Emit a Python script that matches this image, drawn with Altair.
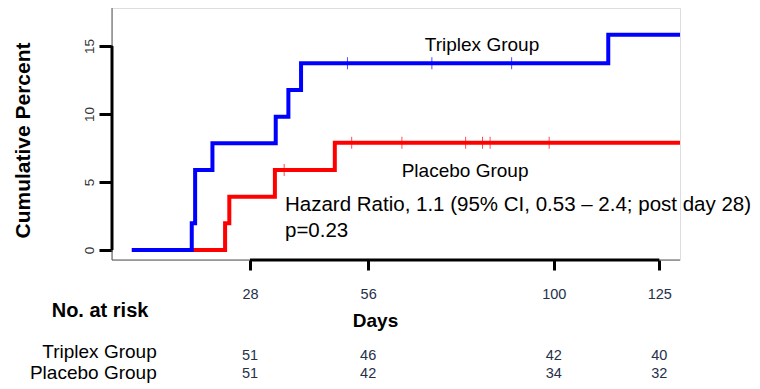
import altair as alt
import pandas as pd

# ---- data ----
blue_days = [0, 14.2, 15.0, 19.1, 34.1, 37.1, 40.1, 112.9, 129.9]
blue_pct = [0, 1.96, 5.88, 7.84, 9.80, 11.76, 13.73, 15.83, 15.83]
red_days = [0, 22.1, 23.1, 33.9, 48.1, 129.9]
red_pct = [0, 1.96, 3.92, 5.88, 7.88, 7.88]
blue_censor_days = [51.1, 71.1, 90.0]
blue_censor_pct = [13.73, 13.73, 13.73]
red_censor_days = [36.1, 52.1, 64.0, 79.1, 83.1, 84.9, 98.9]
red_censor_pct = [5.88, 7.88, 7.88, 7.88, 7.88, 7.88, 7.88]
risk_days = [28, 56, 100, 125]
triplex_risk = [51, 46, 42, 40]
placebo_risk = [51, 42, 34, 32]
y_ticks = [0, 5, 10, 15]

BLUE = "#0000FF"
RED = "#FF0000"
FONT = "Liberation Sans"
NUMC = "#26304a"

W, H = 568, 252
xs = alt.Scale(domain=[-4.70, 129.9], nice=False, zero=False)
ys = alt.Scale(domain=[-0.735, 17.79], nice=False, zero=False)

blue_df = pd.DataFrame({"day": blue_days, "pct": blue_pct})
red_df = pd.DataFrame({"day": red_days, "pct": red_pct})
bc_df = pd.DataFrame({"day": blue_censor_days, "pct": blue_censor_pct})
rc_df = pd.DataFrame({"day": red_censor_days, "pct": red_censor_pct})
risk_df = pd.DataFrame({"day": risk_days, "tri": triplex_risk, "pla": placebo_risk})
one = pd.DataFrame({"a": [0]})

x_axis = alt.Axis(
    values=risk_days, domain=False, grid=False, tickSize=10, tickWidth=3,
    tickColor="black", labelFontSize=14.5, labelColor=NUMC, labelPadding=28,
    labelBaseline="alphabetic", labelFont=FONT,
    titleFontSize=19, titleFontWeight="bold", titleFont=FONT,
    titleColor="black", titleX=263, titleY=66, titleBaseline="alphabetic",
    titleAlign="center",
)
y_axis = alt.Axis(
    values=y_ticks, domain=False, grid=False, tickSize=13, tickWidth=3,
    tickColor="black", labelFontSize=13.5, labelColor="#333333", labelAngle=-90,
    labelAlign="center", labelBaseline="alphabetic", labelPadding=6,
    labelFont=FONT,
)


def X(field="day"):
    return alt.X(f"{field}:Q", scale=xs, axis=x_axis, title="Days")


def Y(field="pct"):
    return alt.Y(f"{field}:Q", scale=ys, axis=y_axis, title=None)


red_line = alt.Chart(red_df).mark_line(
    color=RED, strokeWidth=4, interpolate="step-after", strokeCap="butt"
).encode(x=X(), y=Y())
red_cens = alt.Chart(rc_df).mark_tick(
    color=RED, orient="vertical", size=12, thickness=1
).encode(x=X(), y=Y())
blue_line = alt.Chart(blue_df).mark_line(
    color=BLUE, strokeWidth=4, interpolate="step-after", strokeCap="butt"
).encode(x=X(), y=Y())
blue_cens = alt.Chart(bc_df).mark_tick(
    color=BLUE, orient="vertical", size=12, thickness=1
).encode(x=X(), y=Y())

# frame lines
frame_left = alt.Chart(one).mark_rule(color="#555555", strokeWidth=1).encode(
    x=alt.value(0), y=alt.value(0), y2=alt.value(H)
)
frame_bottom = alt.Chart(one).mark_rule(color="#555555", strokeWidth=1).encode(
    x=alt.value(0), x2=alt.value(W), y=alt.value(H)
)
y_domain = alt.Chart(pd.DataFrame({"lo": [y_ticks[0]], "hi": [y_ticks[-1]]})).mark_rule(
    color="black", strokeWidth=3
).encode(x=alt.value(0), y=Y("lo"), y2="hi:Q")
x_domain = alt.Chart(pd.DataFrame({"lo": [risk_days[0]], "hi": [risk_days[-1]]})).mark_rule(
    color="black", strokeWidth=3
).encode(y=alt.value(H), x=X("lo"), x2="hi:Q")


def label(text, x, y, size, align="left", weight="normal", angle=0, color="black"):
    return alt.Chart(one).mark_text(
        text=text, font=FONT, fontSize=size, align=align, baseline="alphabetic",
        fontWeight=weight, angle=angle, color=color,
    ).encode(x=alt.value(x), y=alt.value(y))


texts = [
    label("Triplex Group", 370, 42.7, 19, align="center"),
    label("Placebo Group", 289.7, 168.7, 19),
    label("Hazard Ratio, 1.1 (95% CI, 0.53 \u2013 2.4; post day 28)", 173, 202.5, 20.5),
    label("p=0.23", 173, 229, 20.5),
    label("Cumulative Percent", -82, 132.5, 21, align="center", weight="bold", angle=270),
    label("No. at risk", -60.3, 308.5, 20, weight="bold"),
    label("Triplex Group", 44.7, 349.5, 19, align="right"),
    label("Placebo Group", 44.7, 371.3, 19, align="right"),
]

risk_tri = alt.Chart(risk_df).mark_text(
    font=FONT, fontSize=14.5, color=NUMC, baseline="alphabetic"
).encode(x=X(), y=alt.value(352), text="tri:Q")
risk_pla = alt.Chart(risk_df).mark_text(
    font=FONT, fontSize=14.5, color=NUMC, baseline="alphabetic"
).encode(x=X(), y=alt.value(370.3), text="pla:Q")

chart = alt.layer(
    frame_left, frame_bottom, y_domain, x_domain,
    red_line, red_cens, blue_line, blue_cens,
    *texts, risk_tri, risk_pla,
).properties(
    width=W, height=H,
    autosize=alt.AutoSizeParams(type="none"),
    padding={"left": 104, "top": 0, "right": 72, "bottom": 126},
).configure_view(stroke=None).configure(background="white")

chart.save("out.html", embed_options={"renderer": "svg", "actions": False})
